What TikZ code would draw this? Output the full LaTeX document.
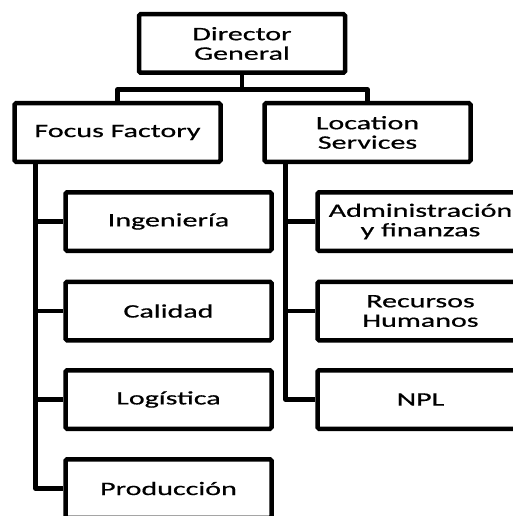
\documentclass[tikz,border=0pt]{standalone}
\usepackage{fontspec}
\setmainfont[FakeStretch=1.58,FakeBold=0.6]{Carlito}
\begin{document}
\begin{tikzpicture}[x=1pt,y=-1pt,
  box/.style={draw=black,line width=4.5pt,rounded corners=1.5pt,fill=white,
    minimum width=206pt,minimum height=58.5pt,inner sep=0pt,align=center,
    font=\fontsize{19}{19.5}\selectfont},
  conn/.style={draw=black,line width=4.5pt,line join=round}]
\useasboundingbox (0,0) rectangle (513,516);
\clip (0,0) rectangle (513,516);
\fill[white] (0,0) rectangle (513,516);
\node[box] (dg) at (242,43.5) {Director\\General};
\node[box] (ff) at (117.5,132.5) {Focus Factory};
\node[box] (ls) at (367.5,132.5) {Location\\Services};
\node[box] (ing) at (168.5,221.5) {Ingeniería};
\node[box] (cal) at (168.5,311) {Calidad};
\node[box] (log) at (168.5,399.5) {Logística};
\node[box] (prod) at (168.5,488.5) {Producción};
\node[box] (adm) at (420.5,221.5) {Administración\\y finanzas};
\node[box] (rh) at (420.5,311) {Recursos\\Humanos};
\node[box] (npl) at (420.5,399.5) {NPL};
\coordinate (bar) at (242,89.5);
\draw[conn] (dg.south) -- (bar);
\draw[conn] (bar) -| (ff.north);
\draw[conn] (bar) -| (ls.north);
\path (ff.south west) ++(23,0) coordinate (fs);
\draw[conn] (fs) |- (prod.west);
\foreach \n in {ing,cal,log} \draw[conn] (\n.west) -- (\n.west -| fs);
\path (ls.south west) ++(23,0) coordinate (ms);
\draw[conn] (ms) |- (npl.west);
\foreach \n in {adm,rh} \draw[conn] (\n.west) -- (\n.west -| ms);
\end{tikzpicture}
\end{document}
